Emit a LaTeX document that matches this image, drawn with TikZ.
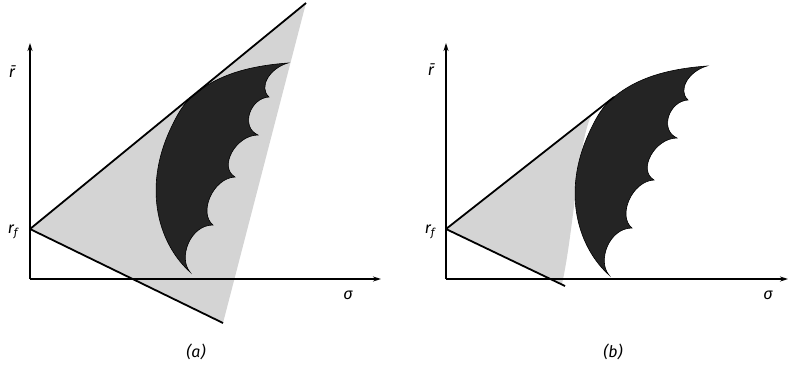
\documentclass[tikz,border=0pt]{standalone}
\usepackage{fontspec}
\setmainfont{Fira Sans}
\usetikzlibrary{arrows.meta}
\definecolor{conefill}{RGB}{212,212,212}
\definecolor{ink}{RGB}{36,36,36}

\begin{document}
\begin{tikzpicture}[x=1pt, y=-1pt,
  axis/.style={line width=1.3pt, -{Stealth[length=8pt,width=5pt]}},
  bound/.style={line width=1.8pt, black},
  lbl/.style={font=\fontsize{16}{18}\selectfont\itshape, inner sep=0pt},
  wing/.pic={
    \filldraw[fill=ink, draw=black, line width=0.6pt]
      (0,0) .. controls (-18,5) and (-30,24) .. (-19,34)
      .. controls (-38,35) and (-48,64) .. (-30,72)
      .. controls (-52,72) and (-70,104) .. (-53,114)
      .. controls (-75,115) and (-90,150) .. (-75,162)
      .. controls (-98,162) and (-110,195) .. (-98,209)
      .. controls (-128,182) and (-146,128) .. (-118,67)
      .. controls (-110,50) and (-105,41) .. (-93,31)
      .. controls (-70,12) and (-40,3) .. (0,0) -- cycle;
  }
]
\useasboundingbox (0,0) rectangle (789,376);

% panel (a)
\coordinate (oa) at (30,279);
\coordinate (rfa) at (30,229);
\coordinate (ya) at (30,43);
\coordinate (xa) at (381,279);
\coordinate (ua) at (306,3);
\coordinate (da) at (223,323);
\fill[conefill] (rfa) -- (ua) -- (da) -- cycle;
\draw[axis] (oa) -- (ya);
\draw[axis] (oa) -- (xa);
\pic at (288,63) {wing};
\draw[bound] (rfa) -- (ua);
\draw[bound] (rfa) -- (da);
\node[lbl] (rbara) at (12,72) {\=r};
\node[lbl] (rfla) at (13,232) {r\textsubscript{f}};
\node[lbl] (siga) at (348,295) {σ};
\node[lbl] (capa) at (196,352) {(a)};

% panel (b)
\coordinate (ob) at (446,279);
\coordinate (rfb) at (446,229);
\coordinate (yb) at (446,43);
\coordinate (xb) at (788,279);
\coordinate (ub) at (614,97);
\coordinate (db) at (565,286);
\coordinate (gb) at (592,114);
\coordinate (hb) at (562,284);
\fill[conefill] (rfb) -- (gb) .. controls (578,140) and (574,230) .. (hb) -- cycle;
\draw[axis] (ob) -- (yb);
\draw[axis] (ob) -- (xb);
\pic at (707,66) {wing};
\draw[bound] (rfb) -- (ub);
\draw[bound] (rfb) -- (db);
\node[lbl] (rbarb) at (431,70) {\=r};
\node[lbl] (rflb) at (430,232) {r\textsubscript{f}};
\node[lbl] (sigb) at (768,295) {σ};
\node[lbl] (capb) at (613,352) {(b)};
\end{tikzpicture}
\end{document}
